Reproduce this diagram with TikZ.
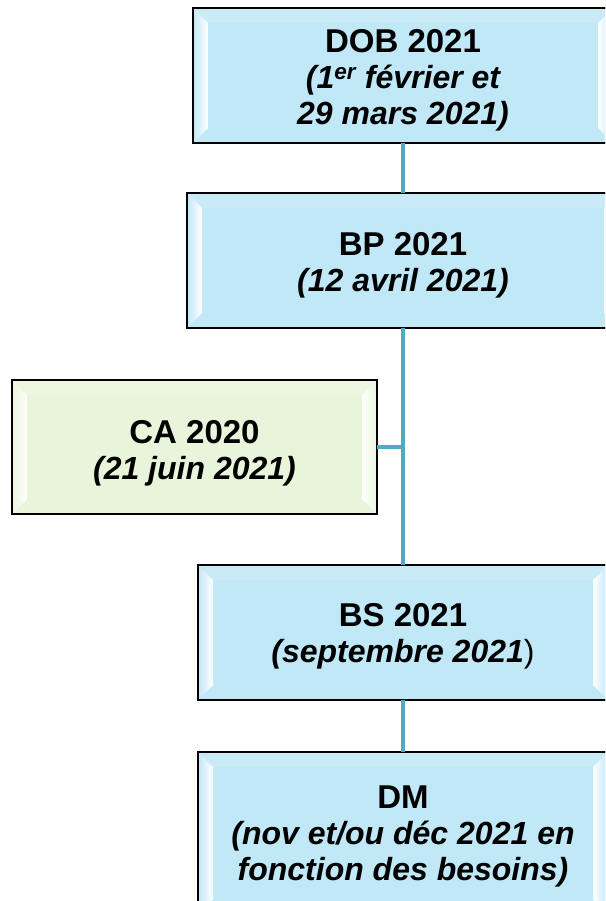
\documentclass[tikz,border=0pt]{standalone}
\usepackage{fontspec}
\setmainfont{Liberation Sans}
\usetikzlibrary{calc}
\definecolor{boxblue}{HTML}{C0E8F7}
\definecolor{boxgreen}{HTML}{E9F5DB}
\definecolor{linkblue}{HTML}{4BACC6}
\newcommand\ttl[1]{{\fontsize{33}{36}\selectfont\upshape #1}}
\newcommand\bevelbox[2]{%
  \shade[left color=#2, right color=white] (#1.north west) -- ++(15,15) -- ($(#1.south west)+(15,-15)$) -- (#1.south west) -- cycle;
  \shade[left color=white, right color=#2] (#1.north east) -- ++(-15,15) -- ($(#1.south east)+(-15,-15)$) -- (#1.south east) -- cycle;
  \fill[white,opacity=.15] (#1.north west) -- ++(15,15) -- ($(#1.north east)+(-15,15)$) -- (#1.north east) -- cycle;
  \draw[line width=1.5pt] (#1.north west) rectangle (#1.south east);}
\tikzset{
  stage/.style={draw=black, line width=1.5pt, fill=boxblue,
    inner sep=0pt, outer sep=0pt},
  greenstage/.style={stage, fill=boxgreen},
  txt/.style={align=center, inner sep=0pt,
    font=\fontsize{32}{36}\selectfont\bfseries\itshape},
  link/.style={draw=linkblue, line width=4.5pt}
}
\begin{document}
\begin{tikzpicture}[x=1pt,y=-1pt]
\useasboundingbox (0,0) rectangle (605,901);
\clip (0,0) rectangle (605,901);
\node[stage, minimum width=420pt, minimum height=135pt] (DOB) at (403,75.5) {};
\node[stage, minimum width=432pt, minimum height=135pt] (BP) at (403,260.5) {};
\node[greenstage, minimum width=365pt, minimum height=134pt] (CA) at (194.5,447) {};
\node[stage, minimum width=410pt, minimum height=135pt] (BS) at (403,632.5) {};
\node[stage, minimum width=410pt, minimum height=162pt] (DM) at (403,833) {};
\bevelbox{DOB}{boxblue}\bevelbox{BP}{boxblue}\bevelbox{CA}{boxgreen}\bevelbox{BS}{boxblue}\bevelbox{DM}{boxblue}
\node[txt] (DOBt) at ($(DOB.center)+(0,5)$)
  {\ttl{DOB 2021}\\(1\textsuperscript{er} février et\\29 mars 2021)};
\node[txt] (BPt) at ($(BP.center)+(0,5)$) {\ttl{BP 2021}\\(12 avril 2021)};
\node[txt] (CAt) at ($(CA.center)+(0,6)$) {\ttl{CA 2020}\\(21 juin 2021)};
\node[txt] (BSt) at ($(BS.center)+(0,4)$) {\ttl{BS 2021}\\(septembre 2021{\upshape\mdseries)}};
\node[txt] (DMt) at ($(DM.center)+(0,3)$) {\ttl{DM}\\(nov et/ou déc 2021 en\\fonction des besoins)};
\draw[link] (DOB.south) -- (BP.north);
\draw[link] (BP.south) -- (BS.north);
\draw[link] (BS.south) -- (DM.north);
\draw[link] (CA.east) -- (CA.east -| BP.south);
\end{tikzpicture}
\end{document}
